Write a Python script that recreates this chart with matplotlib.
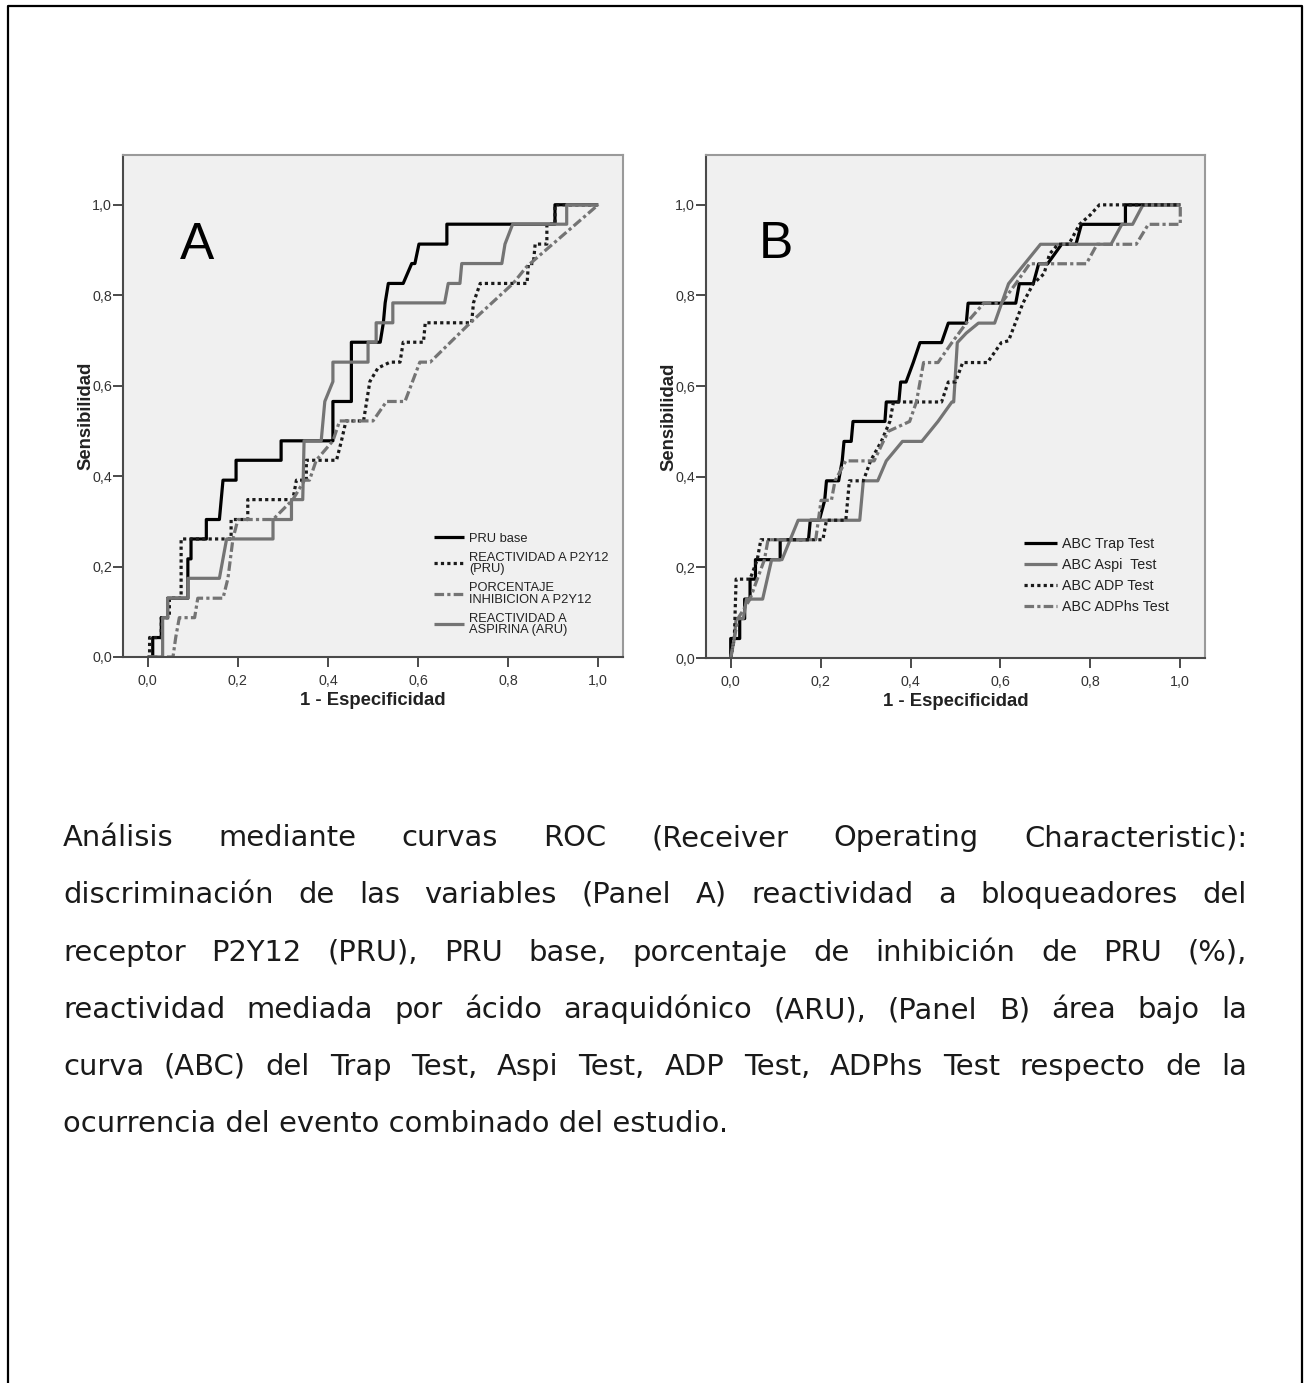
import matplotlib
matplotlib.use("Agg")
import matplotlib.pyplot as plt
from matplotlib.lines import Line2D
from matplotlib.ticker import FuncFormatter

# ---------------- data (1 - especificidad, sensibilidad)
# panel A
pru_base_x = [0, 0.011, 0.011, 0.030, 0.030, 0.044, 0.044, 0.089, 0.089, 0.096, 0.096, 0.130,
              0.130, 0.159, 0.167, 0.196, 0.196, 0.296, 0.296, 0.411, 0.411, 0.452, 0.452, 0.516,
              0.523, 0.527, 0.534, 0.567, 0.586, 0.593, 0.602, 0.664, 0.664, 0.904, 0.904, 1.0]
pru_base_y = [0, 0, 0.043, 0.043, 0.087, 0.087, 0.130, 0.130, 0.217, 0.217, 0.261, 0.261,
              0.304, 0.304, 0.391, 0.391, 0.435, 0.435, 0.478, 0.478, 0.565, 0.565, 0.696, 0.696,
              0.739, 0.783, 0.826, 0.826, 0.870, 0.870, 0.913, 0.913, 0.957, 0.957, 1.0, 1.0]

p2y12_x = [0, 0.004, 0.004, 0.030, 0.030, 0.048, 0.048, 0.074, 0.074, 0.185, 0.185, 0.222,
           0.222, 0.322, 0.330, 0.352, 0.352, 0.419, 0.430, 0.440, 0.479, 0.493, 0.511, 0.538,
           0.560, 0.567, 0.612, 0.616, 0.719, 0.723, 0.738, 0.842, 0.845, 0.856, 0.860, 0.886,
           0.886, 0.904, 0.904, 1.0]
p2y12_y = [0, 0, 0.043, 0.043, 0.087, 0.087, 0.130, 0.130, 0.261, 0.261, 0.304, 0.304,
           0.348, 0.348, 0.391, 0.391, 0.435, 0.435, 0.478, 0.522, 0.522, 0.609, 0.639, 0.652,
           0.652, 0.696, 0.696, 0.739, 0.739, 0.783, 0.826, 0.826, 0.870, 0.870, 0.913, 0.913,
           0.957, 0.957, 1.0, 1.0]

inhib_x = [0, 0.056, 0.062, 0.070, 0.104, 0.111, 0.167, 0.178, 0.189, 0.200, 0.278, 0.322,
           0.348, 0.359, 0.374, 0.411, 0.426, 0.500, 0.530, 0.571, 0.604, 0.627, 0.716, 0.811,
           0.841, 0.871, 1.0]
inhib_y = [0, 0, 0.043, 0.087, 0.087, 0.130, 0.130, 0.174, 0.261, 0.304, 0.304, 0.348,
           0.391, 0.391, 0.435, 0.478, 0.522, 0.522, 0.565, 0.565, 0.652, 0.652, 0.739, 0.826,
           0.863, 0.889, 1.0]

aru_x = [0, 0.033, 0.033, 0.044, 0.044, 0.089, 0.089, 0.159, 0.175, 0.278, 0.278, 0.319,
         0.319, 0.344, 0.347, 0.385, 0.393, 0.411, 0.411, 0.489, 0.489, 0.507, 0.507, 0.544,
         0.544, 0.659, 0.667, 0.693, 0.697, 0.786, 0.793, 0.810, 0.930, 0.930, 1.0]
aru_y = [0, 0, 0.087, 0.087, 0.130, 0.130, 0.174, 0.174, 0.261, 0.261, 0.304, 0.304,
         0.348, 0.348, 0.478, 0.478, 0.565, 0.609, 0.652, 0.652, 0.696, 0.696, 0.739, 0.739,
         0.783, 0.783, 0.826, 0.826, 0.870, 0.870, 0.913, 0.957, 0.957, 1.0, 1.0]

# panel B
trap_x = [0, 0, 0.020, 0.020, 0.031, 0.031, 0.043, 0.043, 0.055, 0.055, 0.110, 0.110, 0.173,
          0.177, 0.197, 0.209, 0.213, 0.240, 0.248, 0.252, 0.268, 0.272, 0.343, 0.346, 0.374,
          0.378, 0.390, 0.406, 0.421, 0.469, 0.484, 0.524, 0.528, 0.634, 0.642, 0.673, 0.685,
          0.705, 0.736, 0.768, 0.780, 0.878, 0.878, 1.0]
trap_y = [0, 0.043, 0.043, 0.087, 0.087, 0.130, 0.130, 0.174, 0.174, 0.217, 0.217, 0.261, 0.261,
          0.304, 0.304, 0.348, 0.391, 0.391, 0.435, 0.478, 0.478, 0.522, 0.522, 0.565, 0.565,
          0.609, 0.609, 0.652, 0.696, 0.696, 0.739, 0.739, 0.783, 0.783, 0.826, 0.826, 0.870,
          0.870, 0.913, 0.913, 0.957, 0.957, 1.0, 1.0]

aspi_x = [0, 0.008, 0.012, 0.028, 0.035, 0.071, 0.091, 0.114, 0.150, 0.287, 0.295, 0.327,
          0.346, 0.382, 0.425, 0.461, 0.492, 0.496, 0.504, 0.524, 0.551, 0.587, 0.618, 0.689,
          0.846, 0.870, 0.894, 0.917, 1.0]
aspi_y = [0, 0.043, 0.087, 0.087, 0.130, 0.130, 0.217, 0.217, 0.304, 0.304, 0.391, 0.391,
          0.435, 0.478, 0.478, 0.522, 0.565, 0.565, 0.696, 0.717, 0.739, 0.739, 0.826, 0.913,
          0.913, 0.957, 0.957, 1.0, 1.0]

adp_x = [0, 0.008, 0.012, 0.043, 0.059, 0.067, 0.205, 0.213, 0.256, 0.264, 0.295, 0.311,
         0.335, 0.354, 0.362, 0.469, 0.484, 0.500, 0.516, 0.571, 0.602, 0.618, 0.650, 0.673,
         0.697, 0.709, 0.728, 0.752, 0.776, 0.800, 0.820, 1.0]
adp_y = [0, 0.043, 0.174, 0.174, 0.217, 0.261, 0.261, 0.304, 0.304, 0.391, 0.391, 0.435,
         0.478, 0.522, 0.565, 0.565, 0.609, 0.609, 0.652, 0.652, 0.696, 0.700, 0.783, 0.826,
         0.848, 0.891, 0.913, 0.913, 0.957, 0.978, 1.0, 1.0]

adphs_x = [0, 0.008, 0.016, 0.043, 0.059, 0.075, 0.083, 0.189, 0.201, 0.224, 0.232, 0.256,
           0.319, 0.350, 0.398, 0.413, 0.429, 0.461, 0.492, 0.524, 0.563, 0.602, 0.634, 0.665,
           0.791, 0.815, 0.902, 0.929, 1.0, 1.0]
adphs_y = [0, 0.043, 0.087, 0.130, 0.174, 0.217, 0.261, 0.261, 0.348, 0.348, 0.391, 0.435,
           0.435, 0.500, 0.522, 0.565, 0.652, 0.652, 0.696, 0.739, 0.783, 0.783, 0.826, 0.870,
           0.870, 0.913, 0.913, 0.957, 0.957, 1.0]

labels_a = ["PRU base", "REACTIVIDAD A P2Y12\n(PRU)", "PORCENTAJE\nINHIBICION A P2Y12",
            "REACTIVIDAD A\nASPIRINA (ARU)"]
labels_b = ["ABC Trap Test", "ABC Aspi  Test", "ABC ADP Test", "ABC ADPhs Test"]
ticks = [0.0, 0.2, 0.4, 0.6, 0.8, 1.0]

caption = [
    "Análisis mediante curvas ROC (Receiver Operating Characteristic):",
    "discriminación de las variables (Panel A) reactividad a bloqueadores del",
    "receptor P2Y12 (PRU), PRU base, porcentaje de inhibición de PRU (%),",
    "reactividad mediada por ácido araquidónico (ARU), (Panel B) área bajo la",
    "curva (ABC) del Trap Test, Aspi Test, ADP Test, ADPhs Test respecto de la",
    "ocurrencia del evento combinado del estudio.",
]

# ---------------- styles
BLACK = "#000000"
GREY = "#747474"
solid = dict(lw=2.3, solid_capstyle="butt")
dotted = dict(lw=2.3, dashes=(1, 1))
dashdot = dict(lw=2.3, dashes=(3, 1, 1, 1))

W, H = 1312, 1383
fig = plt.figure(figsize=(W / 100, H / 100), dpi=100)
plt.rcParams["font.family"] = ["Liberation Sans", "DejaVu Sans"]

# page frame (open at the bottom)
fx = lambda px: px / W
fy = lambda py: 1 - py / H
fig.add_artist(Line2D([fx(8), fx(8), fx(1302), fx(1302)], [0, fy(6), fy(6), 0],
                      transform=fig.transFigure, color="black", lw=1.6))

fmt = FuncFormatter(lambda v, p: f"{v:.1f}".replace(".", ","))


def panel(rect, letter, letter_xy, curves, labels, leg_anchor, leg_size, leg_spacing, ylab_x):
    ax = fig.add_axes(rect)
    ax.set_facecolor("#f0f0f0")
    handles = []
    for x, y, col, st in curves:
        h, = ax.plot(x, y, color=col, **st)
        handles.append(h)
    ax.set_xlim(-0.055, 1.055)
    ax.set_ylim(0, 1.11)
    ax.set_xticks(ticks)
    ax.set_yticks(ticks)
    ax.xaxis.set_major_formatter(fmt)
    ax.yaxis.set_major_formatter(fmt)
    for s in ["left", "bottom"]:
        ax.spines[s].set_color("#4a4a4a")
        ax.spines[s].set_linewidth(1.5)
    for s in ["top", "right"]:
        ax.spines[s].set_color("#9a9a9a")
        ax.spines[s].set_linewidth(1.5)
    ax.tick_params(length=7, width=1.4, color="#4a4a4a", labelsize=10.3, labelcolor="#333333")
    ax.tick_params(axis="y", pad=1)
    ax.tick_params(axis="x", pad=5)
    ax.set_xlabel("1 - Especificidad", fontsize=13.3, fontweight="bold", color="#222222")
    ax.set_ylabel("Sensibilidad", fontsize=13.3, fontweight="bold", color="#222222")
    ax.xaxis.set_label_coords(0.5, -0.07)
    ax.yaxis.set_label_coords(ylab_x, 0.48)
    ax.text(letter_xy[0], letter_xy[1], letter, fontsize=37, ha="center", va="baseline")
    leg = ax.legend(handles, labels, loc="lower left", bbox_to_anchor=leg_anchor,
                    frameon=False, fontsize=leg_size, handlelength=2.3, handletextpad=0.4,
                    labelspacing=leg_spacing, borderpad=0, borderaxespad=0)
    for t in leg.get_texts():
        t.set_linespacing(0.92)
        t.set_color("#222222")
    return ax


ax_a = panel([123 / W, 1 - 657 / H, 500 / W, 502 / H], "A", (0.109, 0.881),
             [(pru_base_x, pru_base_y, BLACK, solid),
              (p2y12_x, p2y12_y, "#1a1a1a", dotted),
              (inhib_x, inhib_y, GREY, dashdot),
              (aru_x, aru_y, GREY, solid)],
             labels_a, (0.622, 0.042), 9.3, 0.55, -0.058)

ax_b = panel([706 / W, 1 - 658 / H, 499 / W, 503 / H], "B", (0.101, 0.882),
             [(trap_x, trap_y, BLACK, solid),
              (aspi_x, aspi_y, GREY, solid),
              (adp_x, adp_y, "#1a1a1a", dotted),
              (adphs_x, adphs_y, GREY, dashdot)],
             labels_b, (0.637, 0.088), 10.3, 0.48, -0.058)

# ---------------- justified caption
CAP_FONT = "DejaVu Sans"
cap_left, cap_right = 63, 1247
cap_base = [846, 903, 961, 1018, 1075, 1132]
renderer = fig.canvas.get_renderer()


def text_w(s, size):
    t = fig.text(0, 0, s, fontsize=size, family=CAP_FONT)
    w = t.get_window_extent(renderer).width
    t.remove()
    return w


cap_size = 20 * 665 / text_w(caption[-1], 20)
for i, line in enumerate(caption):
    y = fy(cap_base[i])
    if i == len(caption) - 1:
        fig.text(fx(cap_left), y, line, fontsize=cap_size, family=CAP_FONT,
                 ha="left", va="baseline", color="#1a1a1a")
        continue
    words = line.split()
    widths = [text_w(w, cap_size) for w in words]
    gap = (cap_right - cap_left - sum(widths)) / (len(words) - 1)
    x = cap_left
    for w, wd in zip(words, widths):
        fig.text(fx(x), y, w, fontsize=cap_size, family=CAP_FONT,
                 ha="left", va="baseline", color="#1a1a1a")
        x += wd + gap

fig.savefig("out.png", dpi=100)
